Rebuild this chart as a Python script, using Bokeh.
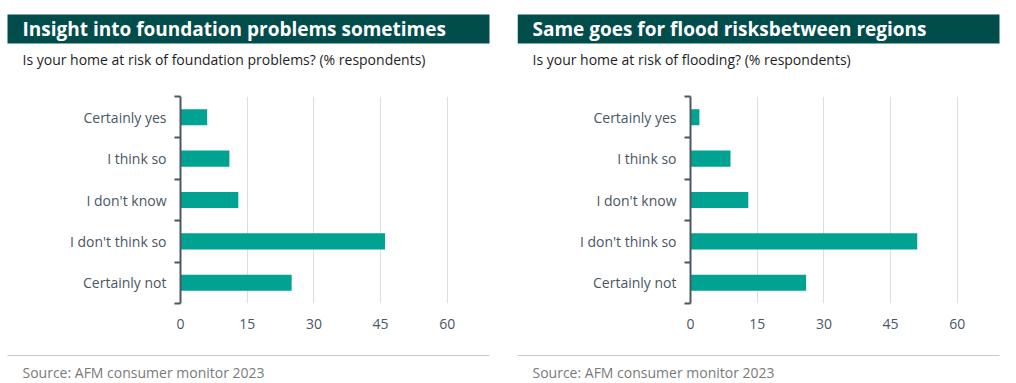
from bokeh.plotting import figure
from bokeh.layouts import row, column
from bokeh.models import FixedTicker, LinearAxis, Range1d, Label, ColumnDataSource
from bokeh.embed import file_html
from bokeh.resources import INLINE

# ---------------- data ----------------
categories = ["Certainly yes", "I think so", "I don't know", "I don't think so", "Certainly not"]
foundation_values = [6, 11, 13, 46, 25]
flood_values = [2, 9, 13, 51, 26]
x_ticks = [0, 15, 30, 45, 60]

titles = ["Insight into foundation problems sometimes", "Same goes for flood risksbetween regions"]
subtitles = ["Is your home at risk of foundation problems? (% respondents)",
             "Is your home at risk of flooding? (% respondents)"]
source_text = "Source: AFM consumer monitor 2023"

# ---------------- style ----------------
BANNER = "#014d4b"
BAR = "#00a291"
AXIS = "#4a5763"
GRID = "#dedede"
FONT = "Open Sans"

HEADER_H, PLOT_H, FOOTER_H = 80, 260, 43


def blank(width, height, x0):
    f = figure(width=width, height=height, title=None, output_backend="svg",
               toolbar_location=None, x_range=Range1d(-x0, width - x0), y_range=Range1d(height, 0),
               x_axis_location=None, y_axis_location=None,
               min_border_left=0, min_border_right=0, min_border_top=0, min_border_bottom=0)
    f.outline_line_color = None
    f.grid.visible = False
    return f


def make_header(title, subtitle, width, x0):
    h = blank(width, HEADER_H, x0)
    h.quad(left=0, right=482, top=14, bottom=43, fill_color=BANNER, line_color=None)
    h.add_layout(Label(x=15, y=28, text=title, text_color="white", text_font=FONT,
                       text_font_style="bold", text_font_size="19px",
                       text_baseline="middle", text_align="left"))
    h.add_layout(Label(x=15, y=59, text=subtitle, text_color="#1e1e1e", text_font=FONT,
                       text_font_size="14px", text_baseline="middle", text_align="left"))
    return h


def make_footer(width, x0):
    f = blank(width, FOOTER_H, x0)
    f.quad(left=0, right=482, top=14.5, bottom=15.5, fill_color="#c9c9c9", line_color=None)
    f.add_layout(Label(x=15, y=31.5, text=source_text, text_color="#7a7a7a", text_font=FONT,
                       text_font_size="14px", text_baseline="middle", text_align="left"))
    return f


def make_chart(values, width, left, frame_w):
    right = width - left - frame_w
    p = figure(width=width, height=PLOT_H, title=None, output_backend="svg",
               toolbar_location=None, x_range=Range1d(0, 65), y_range=Range1d(5, 0),
               x_axis_location=None, y_axis_location=None,
               min_border_left=left, min_border_right=right,
               min_border_top=16, min_border_bottom=37)
    p.outline_line_color = None

    ypos = [i + 0.5 for i in range(len(categories))]
    src = ColumnDataSource(dict(y=ypos, v=values, cat=categories))
    p.hbar(y="y", right="v", left=0, height=0.39, source=src,
           fill_color=BAR, line_color=None)

    xa = LinearAxis(ticker=FixedTicker(ticks=x_ticks))
    xa.axis_line_color = None
    xa.major_tick_line_color = None
    xa.minor_tick_line_color = None
    xa.major_label_standoff = 9
    xa.major_label_text_font = FONT
    xa.major_label_text_font_size = "14px"
    xa.major_label_text_color = AXIS
    p.add_layout(xa, "below")

    ya = LinearAxis(ticker=FixedTicker(ticks=ypos, minor_ticks=list(range(len(categories) + 1))))
    ya.major_label_overrides = {y: c for y, c in zip(ypos, categories)}
    ya.axis_line_color = AXIS
    ya.axis_line_width = 2
    ya.major_tick_line_color = None
    ya.major_tick_out = 0
    ya.major_tick_in = 0
    ya.minor_tick_line_color = AXIS
    ya.minor_tick_line_width = 2
    ya.minor_tick_out = 6
    ya.minor_tick_in = 0
    ya.major_label_standoff = 8
    ya.major_label_text_font = FONT
    ya.major_label_text_font_size = "14px"
    ya.major_label_text_color = AXIS
    p.add_layout(ya, "left")

    p.xgrid.ticker = FixedTicker(ticks=x_ticks[1:])
    p.xgrid.grid_line_color = GRID
    p.ygrid.grid_line_color = None
    return p


h1 = make_header(titles[0], subtitles[0], 517, 7)
h2 = make_header(titles[1], subtitles[1], 499, 0)
p1 = make_chart(foundation_values, 517, 180, 289)
p2 = make_chart(flood_values, 499, 173, 289)
f1 = make_footer(517, 7)
f2 = make_footer(499, 0)

layout = column(row(h1, h2), row(p1, p2), row(f1, f2))
open("out.html", "w").write(file_html(layout, INLINE))
